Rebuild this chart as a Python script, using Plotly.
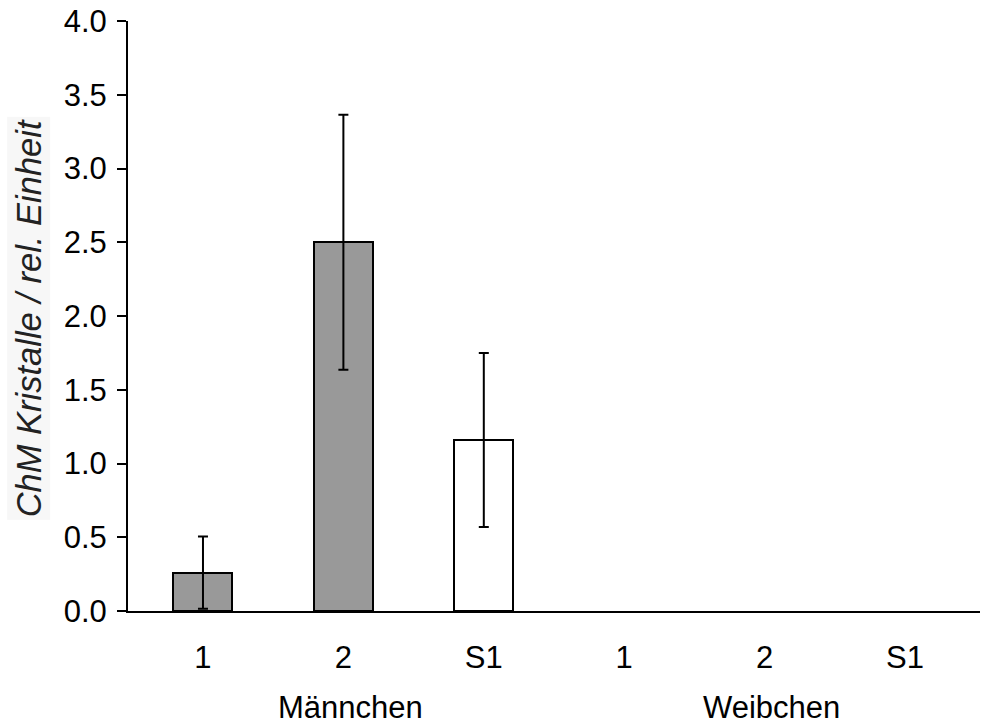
import plotly.graph_objects as go

categories = ["1", "2", "S1", "1", "2", "S1"]
groups = ["Männchen", "Weibchen"]
values = [0.26, 2.50, 1.16, 0, 0, 0]
errors = [0.245, 0.865, 0.59, 0, 0, 0]
bar_colors = ["#999999", "#999999", "#ffffff", "#999999", "#999999", "#ffffff"]
y_title = "ChM Kristalle / rel. Einheit"
y_ticks = [0.0, 0.5, 1.0, 1.5, 2.0, 2.5, 3.0, 3.5, 4.0]

xpos = list(range(len(categories)))
shown = [i for i, v in enumerate(values) if v > 0]

fig = go.Figure()
fig.add_trace(go.Bar(
    x=[xpos[i] for i in shown], y=[values[i] for i in shown], width=0.42,
    marker=dict(color=[bar_colors[i] for i in shown],
                line=dict(color="black", width=2)),
    error_y=dict(type="data", array=[errors[i] for i in shown], visible=True,
                 color="black", thickness=2, width=5),
    showlegend=False,
))

font = "Liberation Sans, Arial, sans-serif"
fig.update_layout(
    width=981, height=726,
    margin=dict(l=128, r=1, t=21, b=115, autoexpand=False),
    paper_bgcolor="white", plot_bgcolor="white",
    font=dict(family=font, size=31, color="black"),
    bargap=0,
    xaxis=dict(
        range=[-0.534, 5.534], tickvals=xpos, ticktext=categories,
        showline=True, linecolor="black", linewidth=2,
        ticks="", showgrid=False, zeroline=False, automargin=False,
        tickfont=dict(size=31), ticklabelstandoff=18,
    ),
    yaxis=dict(
        range=[0, 4.0], tickvals=y_ticks,
        ticktext=[f"{v:.1f}" for v in y_ticks],
        showline=True, linecolor="black", linewidth=2,
        ticks="outside", ticklen=9, tickwidth=2, tickcolor="black",
        showgrid=False, zeroline=False, automargin=False,
        tickfont=dict(size=31), ticklabelstandoff=4,
    ),
)

for gi, g in enumerate(groups):
    fig.add_annotation(
        x=gi * 3 + 1.05, y=-0.164, xref="x", yref="paper",
        text=g, showarrow=False, yanchor="middle",
        font=dict(size=31, family=font, color="black"),
    )

fig.add_annotation(
    x=(29 - 128) / 852, y=0.496, xref="paper", yref="paper",
    text=f"<i>{y_title}</i>", textangle=-90, showarrow=False,
    xanchor="center", yanchor="middle",
    bgcolor="#f7f7f7", borderpad=2,
    font=dict(size=34.5, family=font, color="#222222"),
)

fig.write_html(
    "out.html",
    config={"displayModeBar": False},
    post_script="document.body.style.margin='0';document.body.style.overflow='hidden';",
)
